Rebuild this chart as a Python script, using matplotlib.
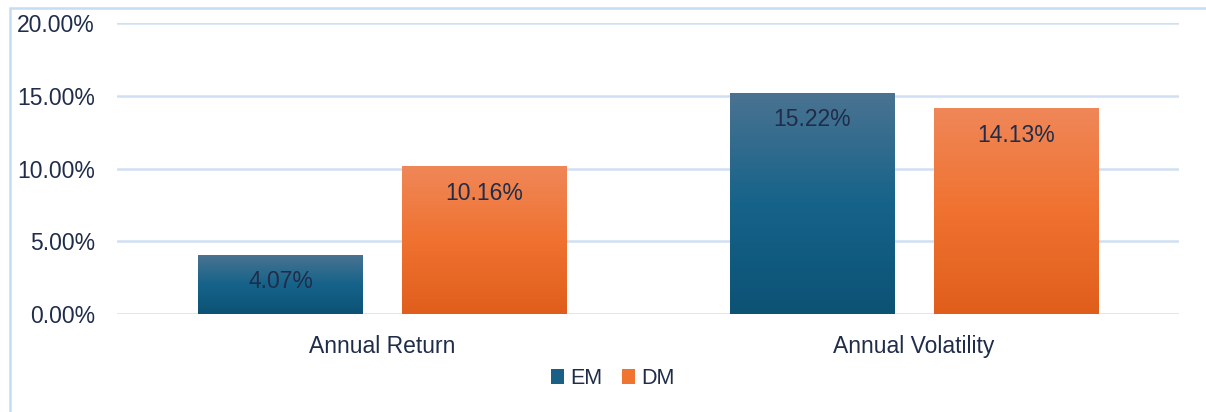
import numpy as np
import matplotlib
matplotlib.use("Agg")
import matplotlib.pyplot as plt
from matplotlib.colors import LinearSegmentedColormap
from matplotlib.patches import Rectangle, Patch

# ── Datos ─────────────────────────────────────────────────────────────────────
categories = ["Annual Return", "Annual Volatility"]
series_names = ["EM", "DM"]
em_values = [0.0407, 0.1522]
dm_values = [0.1016, 0.1413]
y_ticks = [0.0, 0.05, 0.10, 0.15, 0.20]

# ── Estilo ────────────────────────────────────────────────────────────────────
plt.rcParams["font.family"] = ["Liberation Sans", "DejaVu Sans"]
TEXT = "#1f2d4a"
GRID = "#d0e0f2"
FS = 16.5
GRADS = {
    "EM": ["#4b7391", "#16638a", "#0c5275"],
    "DM": ["#ef8758", "#f07230", "#e05e1c"],
}
SOLID = {"EM": "#1a5f85", "DM": "#f07330"}

fig = plt.figure(figsize=(12.06, 4.12), dpi=100)
ax = fig.add_axes([0.097, 0.238, 0.881, 0.706])

x = np.arange(len(categories))
w = 0.31
off = 0.192

for name, vals, dx in [("EM", em_values, -off), ("DM", dm_values, off)]:
    cmap = LinearSegmentedColormap.from_list(name, GRADS[name][::-1])
    bars = ax.bar(x + dx, vals, w, color="none", edgecolor="none", zorder=3)
    for b, v in zip(bars, vals):
        x0 = b.get_x()
        grad = np.linspace(0, 1, 256).reshape(-1, 1)
        im = ax.imshow(grad, cmap=cmap, origin="lower", aspect="auto",
                       extent=[x0, x0 + b.get_width(), 0, v], zorder=3)
        im.set_clip_path(b)
        # etiqueta de valor dentro de la barra, cerca del extremo
        ax.text(b.get_x() + b.get_width() / 2, v - 0.0185, f"{v*100:.2f}%",
                ha="center", va="center", fontsize=FS, color=TEXT, zorder=4)

ax.set_xlim(-0.5, 1.5)
ax.set_ylim(0, 0.20)
ax.set_yticks(y_ticks)
ax.set_yticklabels([f"{t*100:.2f}%" for t in y_ticks])
ax.set_xticks(x)
ax.set_xticklabels(categories)
ax.tick_params(axis="both", length=0, labelsize=FS, labelcolor=TEXT)
ax.tick_params(axis="y", pad=16)
ax.tick_params(axis="x", pad=15)
ax.yaxis.grid(True, color=GRID, linewidth=1.8, zorder=0)
ax.set_axisbelow(True)
for s in ax.spines.values():
    s.set_visible(False)

# marco del gráfico
fig.patches.append(Rectangle((10 / 1206, -0.1), 1.2, (412 - 8) / 412 + 0.1,
                             transform=fig.transFigure, fill=False,
                             edgecolor="#c6dcf0", linewidth=1.8))

handles = [Patch(facecolor=SOLID[n], edgecolor="none") for n in series_names]
fig.legend(handles, series_names, loc="center", bbox_to_anchor=(0.508, 0.081),
           ncol=2, frameon=False, fontsize=15.5, handlelength=0.6,
           handleheight=0.7, handletextpad=0.3, columnspacing=0.9,
           labelcolor=TEXT)

fig.savefig("out.png", dpi=100)
